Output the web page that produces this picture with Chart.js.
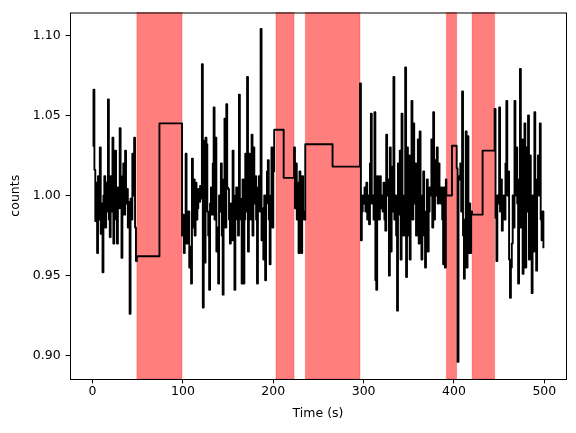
<!DOCTYPE html>
<html>
<head>
<meta charset="utf-8">
<script src="https://cdn.jsdelivr.net/npm/chart.js@4/dist/chart.umd.min.js"></script>
<style>
  html, body { margin: 0; padding: 0; background: #ffffff; }
  #wrap { width: 576px; height: 433px; }
</style>
</head>
<body>
<div id="wrap"><canvas id="myChart" width="576" height="433"></canvas></div>
<script>
// start time (s) of each stretch of 1 s samples
const segStarts = [0, 99, 223, 296, 403, 445];

const countsA = [1.031, 1.066, 1.016, 0.984, 1.008, 0.964, 1.012, 0.985, 1.030, 0.976,
  0.995, 0.952, 1.000, 1.012, 0.980, 1.008, 0.990, 1.060, 0.985, 0.974,
  1.012, 0.990, 1.036, 0.970, 1.010, 1.028, 0.985, 0.970, 1.005, 0.992,
  1.042, 0.998, 0.961, 1.012, 1.020, 0.988, 1.028, 0.995, 1.004, 0.980,
  0.996, 0.926, 0.998, 0.985, 1.026, 1.000, 1.036, 0.980, 0.959];

const countsB = [0.975, 0.988, 0.964, 0.985, 1.026, 0.970, 0.983, 0.990, 0.955, 0.968,
  0.945, 1.023, 0.980, 1.010, 0.975, 1.008, 0.985, 0.992, 1.004, 0.996,
  1.006, 0.998, 1.082, 0.930, 1.034, 0.958, 1.036, 1.032, 0.990, 0.975,
  0.941, 0.995, 1.005, 0.988, 1.020, 1.055, 0.985, 1.036, 0.965, 0.980,
  0.945, 1.000, 0.990, 1.020, 0.975, 0.938, 1.010, 1.048, 0.980, 1.057,
  1.005, 1.004, 0.985, 0.970, 0.995, 0.972, 1.028, 1.000, 0.941, 0.990,
  1.005, 0.985, 0.975, 1.063, 0.998, 0.985, 0.945, 1.010, 0.945, 0.985,
  1.026, 0.990, 1.074, 0.965, 1.026, 1.010, 0.985, 1.038, 0.975, 1.030,
  0.995, 1.012, 0.985, 0.945, 1.005, 1.012, 0.990, 1.104, 0.972, 0.992,
  0.960, 1.000, 0.947, 0.995, 1.015, 1.022, 0.985, 0.957, 1.000, 1.030,
  0.980, 1.015];

const countsC = [1.030, 0.992, 1.020, 0.985, 1.008, 0.964, 1.015, 0.975, 0.964, 1.012,
  0.990, 0.985];

const countsD = [1.070, 0.972, 0.990, 1.000, 0.995, 1.005, 0.990, 1.008, 0.985, 1.000,
  0.982, 1.020, 1.051, 0.995, 1.000, 0.985, 1.052, 0.947, 0.941, 1.012,
  0.995, 0.985, 1.012, 0.992, 1.000, 0.990, 1.008, 0.985, 0.978, 1.038,
  1.000, 1.010, 0.950, 1.030, 0.965, 1.018, 0.990, 1.074, 0.985, 1.000,
  0.975, 0.928, 1.020, 0.988, 1.028, 0.960, 1.051, 1.000, 0.975, 0.990,
  1.080, 0.949, 1.030, 0.975, 1.025, 0.960, 1.010, 1.059, 0.985, 1.045,
  0.995, 1.020, 0.975, 1.000, 1.035, 0.970, 1.040, 0.985, 0.960, 1.000,
  1.015, 0.975, 0.955, 0.990, 1.010, 0.965, 0.990, 1.005, 1.000, 1.035,
  0.980, 1.052, 0.985, 1.022, 1.000, 1.030, 0.995, 1.020, 1.005, 0.995,
  1.005, 0.985, 0.957, 1.005, 0.955, 1.010];

const countsE = [1.017, 0.896, 1.012, 1.010, 1.020, 0.990, 1.065, 0.975, 0.948, 0.985,
  1.040, 0.955, 1.037, 0.964, 0.995, 0.964, 0.990];

const countsF = [1.054, 0.986, 0.959, 1.000, 0.995, 1.055, 0.990, 1.010, 0.978, 0.995,
  1.000, 0.985, 1.020, 1.059, 1.000, 1.015, 0.960, 0.936, 0.955, 0.970,
  1.000, 0.980, 1.059, 1.000, 1.030, 0.995, 0.945, 1.010, 1.079, 0.980,
  1.035, 0.951, 1.020, 1.045, 0.955, 1.030, 0.990, 1.050, 0.960, 1.025,
  0.980, 0.939, 1.000, 0.965, 1.052, 0.990, 0.953, 1.010, 1.025, 1.000,
  1.045, 0.985, 0.972, 0.990, 0.967];

// long blocks that stand in for the flagged stretches
const blockTimes = [49, 74, 201, 211.5, 235.4, 265.6, 391.6, 397.8, 420, 431.7];
const blockCounts = [0.962, 1.045, 1.041, 1.011, 1.032, 1.018, 1.000, 1.031, 0.988, 1.028];

// flagged intervals (red)
const spanStart = [49, 203, 235.5, 391.6, 420];
const spanEnd = [99, 223, 296, 403, 445];

const xTicks = [0, 100, 200, 300, 400, 500];
const yTicks = [0.90, 0.95, 1.00, 1.05, 1.10];

const segCounts = [countsA, countsB, countsC, countsD, countsE, countsF];
const points = [];
segStarts.forEach(function (s, k) {
  segCounts[k].forEach(function (c, i) {
    points.push({ x: s + i, y: c });
  });
});
blockTimes.forEach(function (t, i) {
  points.push({ x: t, y: blockCounts[i] });
});
points.sort(function (a, b) { return a.x - b.x; });

const font = { family: "DejaVu Sans", size: 12.5 };

const spans = {
  id: "spans",
  beforeDatasetsDraw: function (chart) {
    const ctx = chart.ctx;
    const area = chart.chartArea;
    const xs = chart.scales.x;
    ctx.save();
    ctx.fillStyle = "rgba(255, 0, 0, 0.5)";
    ctx.strokeStyle = "rgba(255, 0, 0, 0.25)";
    ctx.lineWidth = 1;
    spanStart.forEach(function (s, i) {
      const x0 = xs.getPixelForValue(s);
      const x1 = xs.getPixelForValue(spanEnd[i]);
      ctx.fillRect(x0, area.top, x1 - x0, area.bottom - area.top);
      ctx.strokeRect(x0, area.top, x1 - x0, area.bottom - area.top);
    });
    ctx.restore();
  },
  afterDraw: function (chart) {
    const ctx = chart.ctx;
    const a = chart.chartArea;
    ctx.save();
    ctx.strokeStyle = "#000000";
    ctx.lineWidth = 1;
    ctx.strokeRect(a.left + 0.5, a.top + 0.5, a.right - a.left, a.bottom - a.top);
    ctx.restore();
  },
};

new Chart("myChart", {
  type: "line",
  data: {
    datasets: [
      {
        data: points,
        borderColor: "#000000",
        borderWidth: 1.9,
        borderJoinStyle: "round",
        stepped: "before",
        pointRadius: 0,
        fill: false,
      },
    ],
  },
  options: {
    responsive: false,
    animation: false,
    devicePixelRatio: 1,
    layout: { padding: { top: 10, right: 10, left: 0, bottom: 0 } },
    plugins: { legend: { display: false }, tooltip: { enabled: false } },
    scales: {
      x: {
        type: "linear",
        min: -25,
        max: 524,
        afterBuildTicks: function (scale) {
          scale.ticks = xTicks.map(function (v) { return { value: v }; });
        },
        afterFit: function (scale) { scale.height = 54; },
        grid: { drawOnChartArea: false, tickLength: 4.4, tickWidth: 1, tickColor: "#000000" },
        border: { display: false },
        ticks: { color: "#000000", font: font, padding: 1, maxRotation: 0, autoSkip: false },
        title: { display: true, text: "Time (s)", color: "#000000", font: font, padding: { top: 0, bottom: 12 } },
      },
      y: {
        type: "linear",
        min: 0.8853,
        max: 1.1143,
        afterBuildTicks: function (scale) {
          scale.ticks = yTicks.map(function (v) { return { value: v }; });
        },
        afterFit: function (scale) { scale.width = 70; },
        grid: { drawOnChartArea: false, tickLength: 4.4, tickWidth: 1, tickColor: "#000000" },
        border: { display: false },
        ticks: {
          color: "#000000",
          font: font,
          padding: 5,
          autoSkip: false,
          callback: function (v) { return Number(v).toFixed(2); },
        },
        title: { display: true, text: "counts", color: "#000000", font: font, padding: { top: 8.5, bottom: 0 } },
      },
    },
  },
  plugins: [spans],
});
</script>
</body>
</html>
